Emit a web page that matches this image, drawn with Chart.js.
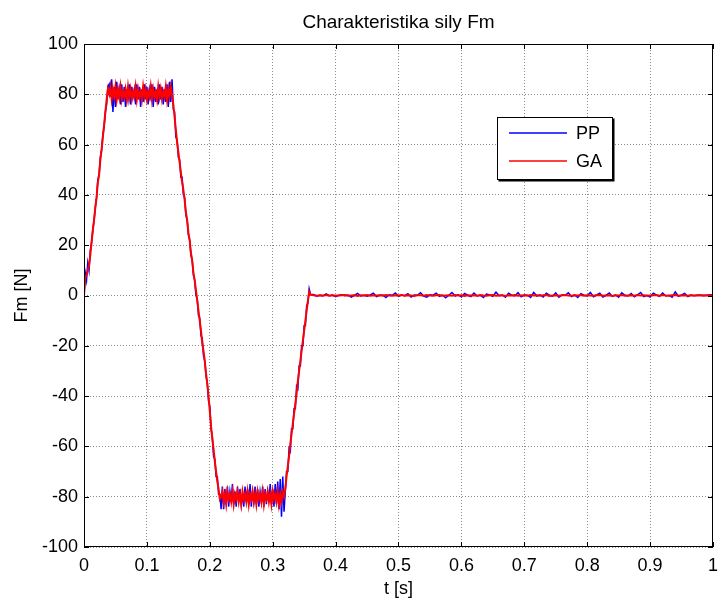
<!DOCTYPE html>
<html><head><meta charset="utf-8">
<script src="https://cdn.jsdelivr.net/npm/chart.js@4/dist/chart.umd.min.js"></script>
<style>html,body{margin:0;padding:0;background:#fff;overflow:hidden}canvas{display:block}</style>
</head><body>
<canvas id="c" width="726" height="601"></canvas>
<script>
const chartTitle = 'Charakteristika sily Fm';
const xTitle = 't [s]';
const yTitle = 'Fm [N]';
const seriesNames = ['PP', 'GA'];
const xTicks = [0, 0.1, 0.2, 0.3, 0.4, 0.5, 0.6, 0.7, 0.8, 0.9, 1];
const yTicks = [-100, -80, -60, -40, -20, 0, 20, 40, 60, 80, 100];

// time in milliseconds
const timeMs = [
  0,2,4,6,8,10,12,14,16,18,
  20,22,24,26,28,30,32,34,36,38,
  40,42,44,46,48,50,52,54,56,58,
  60,62,64,66,68,70,72,74,76,78,
  80,82,84,86,88,90,92,94,96,98,
  100,102,104,106,108,110,112,114,116,118,
  120,122,124,126,128,130,132,134,136,138,
  140,142,144,146,148,150,152,154,156,158,
  160,162,164,166,168,170,172,174,176,178,
  180,182,184,186,188,190,192,194,196,198,
  200,202,204,206,208,210,212,214,216,218,
  220,222,224,226,228,230,232,234,236,238,
  240,242,244,246,248,250,252,254,256,258,
  260,262,264,266,268,270,272,274,276,278,
  280,282,284,286,288,290,292,294,296,298,
  300,302,304,306,308,310,312,314,316,318,
  320,322,324,326,328,330,332,334,336,338,
  340,342,344,346,348,350,352,354,356,358,
  360,
  365,370,375,380,385,390,395,400,405,410,
  415,420,425,430,435,440,445,450,455,460,
  465,470,475,480,485,490,495,500,505,510,
  515,520,525,530,535,540,545,550,555,560,
  565,570,575,580,585,590,595,600,605,610,
  615,620,625,630,635,640,645,650,655,660,
  665,670,675,680,685,690,695,700,705,710,
  715,720,725,730,735,740,745,750,755,760,
  765,770,775,780,785,790,795,800,805,810,
  815,820,825,830,835,840,845,850,855,860,
  865,870,875,880,885,890,895,900,905,910,
  915,920,925,930,935,940,945,950,955,960,
  965,970,975,980,985,990,995,1000
];

const pp = [
  0, 9, 6, 13, 10, 18, 21, 26, 30, 35,
  39, 46, 48, 55, 58, 64, 67, 73, 76, 83,
  84, 79, 86, 73, 83, 75, 85, 78, 82, 76,
  84, 77, 83, 75, 82, 78, 84, 76, 83, 79,
  82, 76, 84, 78, 83, 75, 82, 77, 84, 78,
  83, 76, 82, 79, 84, 75, 83, 77, 82, 76,
  84, 78, 83, 76, 82, 77, 84, 75, 85, 77,
  86, 74, 73, 63, 62, 55, 54, 47, 47, 40,
  39, 32, 30, 24, 22, 16, 14, 8, 6, 0,
  -1, -8, -9, -16, -17, -24, -26, -32, -35, -42,
  -44, -53, -56, -64, -65, -72, -72, -79, -79, -85,
  -76, -85, -77, -83, -76, -84, -78, -82, -75, -83,
  -78, -84, -76, -82, -77, -83, -79, -84, -76, -82,
  -77, -83, -75, -84, -78, -82, -76, -83, -77, -84,
  -78, -82, -76, -84, -77, -83, -78, -82, -75, -83,
  -77, -84, -75, -83, -74, -85, -73, -88, -72, -86,
  -78, -70, -70, -61, -62, -53, -53, -45, -45, -36,
  -37, -28, -28, -20, -20, -12, -12, -4, -3, 2.6,
  0.5,
  0.4, -0.3, 0.1, -0.2, 0.6, -0.1, 0.2, -0.5, 0.1, 0.3,
  -0.1, 0.2, -0.6, 0.1, 0.8, -0.2, 0.1, -0.3, 0.2, 0.9,
  -0.4, 0.1, 0.2, -0.8, 0.3, 0.1, 1.0, -0.3, 0.2, -0.1,
  0.7, -0.6, 0.2, 0.1, 1.1, -0.2, -0.7, 0.3, 0.1, 0.9,
  -0.3, 0.2, -0.9, 0.1, 1.2, -0.2, 0.3, -0.6, 0.8, 0.1,
  -0.4, 1.0, -0.2, 0.1, -0.8, 0.6, 0.2, -0.3, 1.3, -0.1,
  0.2, -0.7, 0.9, 0.1, -0.2, 1.1, -0.5, 0.2, 0.1, -0.8,
  1.2, -0.2, 0.3, -0.6, 0.9, 0.1, -0.3, 1.0, -0.7, 0.2,
  0.1, 1.1, -0.4, 0.2, -0.8, 0.7, 0.1, -0.2, 1.2, -0.5,
  0.2, 0.9, -0.6, 0.1, 1.0, -0.3, 0.2, -0.7, 1.1, 0.1,
  -0.2, 0.8, -0.5, 0.3, 1.2, -0.4, 0.1, -0.6, 0.9, 0.2,
  -0.3, 1.0, -0.2, 0.1, -0.7, 1.4, -0.3, 0.2, 0.8, -0.4,
  0.2, -0.1, 0.1, 0.2, -0.1, 0.1, 0.3, 0.2
];

const ga = [
  0, 7, 8, 10, 12, 16, 21, 26, 30, 35,
  39, 45, 48, 54, 58, 63, 68, 73, 78, 82,
  80, 83, 78, 82, 79, 83, 78, 82, 79, 83,
  78, 81, 79, 82, 78, 83, 79, 82, 78, 81,
  79, 83, 78, 82, 79, 81, 78, 83, 79, 82,
  78, 81, 79, 83, 78, 82, 79, 81, 78, 83,
  79, 82, 78, 81, 79, 83, 78, 82, 79, 83,
  80, 76, 71, 66, 61, 57, 53, 49, 45, 42,
  38, 33, 30, 25, 22, 17, 14, 9, 6, 2,
  -2, -6, -10, -14, -19, -22, -26, -31, -35, -40,
  -46, -52, -57, -61, -66, -70, -74, -77, -81, -80,
  -78, -82, -79, -83, -78, -81, -79, -82, -78, -83,
  -79, -81, -78, -82, -79, -83, -78, -81, -79, -82,
  -78, -83, -79, -81, -78, -82, -79, -83, -78, -81,
  -79, -82, -78, -83, -79, -81, -78, -82, -79, -83,
  -78, -81, -79, -82, -78, -83, -79, -82, -78, -80,
  -77, -72, -68, -64, -59, -55, -51, -47, -43, -39,
  -34, -30, -26, -22, -18, -14, -10, -6, -2, 1.5,
  0.3,
  0.1, -0.1, 0.1, 0.0, 0.2, -0.1, 0.1, -0.1, 0.0, 0.1,
  0.2, -0.1, 0.0, 0.1, -0.2, 0.1, 0.0, 0.2, -0.1, 0.1,
  0.0, 0.1, -0.1, 0.2, 0.0, -0.1, 0.1, 0.0, 0.2, -0.1,
  0.1, 0.0, -0.2, 0.1, 0.1, -0.1, 0.2, 0.0, -0.1, 0.1,
  0.2, -0.1, 0.0, 0.1, -0.1, 0.2, 0.0, 0.1, -0.2, 0.1,
  0.0, 0.1, -0.1, 0.2, 0.0, -0.1, 0.1, 0.2, -0.1, 0.0,
  0.1, -0.2, 0.1, 0.0, 0.2, -0.1, 0.0, 0.1, -0.1, 0.2,
  0.0, 0.1, -0.1, 0.1, 0.2, -0.2, 0.0, 0.1, -0.1, 0.1,
  0.2, 0.0, -0.1, 0.1, 0.0, 0.2, -0.1, 0.1, 0.0, -0.1,
  0.1, 0.2, -0.1, 0.0, 0.1, -0.2, 0.1, 0.0, 0.2, -0.1,
  0.0, 0.1, -0.1, 0.2, 0.0, 0.1, -0.1, 0.0, 0.1, 0.1,
  -0.1, 0.2, 0.0, -0.1, 0.1, 0.2, -0.1, 0.0, 0.1, -0.1,
  0.1, 0.0, 0.1, 0.0, 0.1, 0.0, 0.1, 0.0
];

const FONT = '"Liberation Sans", Arial, Helvetica, sans-serif';
const PP_COLOR = '#0000ff';
const GA_COLOR = '#ff0000';

function toPoints(vals) {
  return timeMs.map((t, i) => ({ x: t / 1000, y: vals[i] }));
}

const decor = {
  id: 'decor',
  afterDraw(chart) {
    const ctx = chart.ctx;
    const a = chart.chartArea;
    const xs = chart.scales.x, ys = chart.scales.y;
    ctx.save();
    ctx.setLineDash([]);
    // axes box
    ctx.strokeStyle = '#000000';
    ctx.lineWidth = 1;
    ctx.strokeRect(a.left + 0.5, a.top + 0.5, a.right - a.left - 1, a.bottom - a.top - 1);
    // inner ticks
    const tl = 5;
    ctx.beginPath();
    xTicks.forEach(v => {
      const px = Math.round(xs.getPixelForValue(v)) + 0.5;
      ctx.moveTo(px, a.bottom); ctx.lineTo(px, a.bottom - tl);
      ctx.moveTo(px, a.top); ctx.lineTo(px, a.top + tl);
    });
    yTicks.forEach(v => {
      const py = Math.round(ys.getPixelForValue(v)) + 0.5;
      ctx.moveTo(a.left, py); ctx.lineTo(a.left + tl, py);
      ctx.moveTo(a.right, py); ctx.lineTo(a.right - tl, py);
    });
    ctx.stroke();
    // titles
    ctx.fillStyle = '#000000';
    ctx.textAlign = 'center';
    ctx.textBaseline = 'middle';
    ctx.font = '19px ' + FONT;
    const cx = (a.left + a.right) / 2;
    ctx.fillText(chartTitle, cx, 23);
    ctx.font = '18px ' + FONT;
    ctx.fillText(xTitle, cx, 589);
    ctx.save();
    ctx.translate(22, (a.top + a.bottom) / 2);
    ctx.rotate(-Math.PI / 2);
    ctx.fillText(yTitle, 0, 0);
    ctx.restore();
    // legend box
    const lx = 497.5, ly = 117.5, lw = 115, lh = 62;
    ctx.fillStyle = '#ffffff';
    ctx.fillRect(lx, ly, lw, lh);
    ctx.strokeStyle = '#000000';
    ctx.lineWidth = 1;
    ctx.strokeRect(lx, ly, lw, lh);
    ctx.lineWidth = 2;
    ctx.beginPath();
    ctx.moveTo(lx + lw + 1, ly + 1); ctx.lineTo(lx + lw + 1, ly + lh + 1); ctx.lineTo(lx + 1, ly + lh + 1);
    ctx.stroke();
    // legend entries
    const entries = [
      { name: seriesNames[0], color: PP_COLOR, y: 133 },
      { name: seriesNames[1], color: GA_COLOR, y: 161 }
    ];
    entries.forEach(e => {
      ctx.beginPath();
      ctx.strokeStyle = e.color;
      ctx.lineWidth = 1.5;
      ctx.moveTo(509, e.y);
      ctx.lineTo(567, e.y);
      ctx.stroke();
      ctx.fillStyle = '#000000';
      ctx.textAlign = 'left';
      ctx.textBaseline = 'middle';
      ctx.font = '18px ' + FONT;
      ctx.fillText(e.name, 576, e.y + 1);
    });
    ctx.restore();
  }
};

new Chart(document.getElementById('c'), {
  type: 'line',
  data: {
    datasets: [
      { label: seriesNames[1], data: toPoints(ga), borderColor: GA_COLOR, borderWidth: 2, pointRadius: 0, fill: false, tension: 0 },
      { label: seriesNames[0], data: toPoints(pp), borderColor: PP_COLOR, borderWidth: 1.5, pointRadius: 0, fill: false, tension: 0 }
    ]
  },
  options: {
    responsive: false,
    animation: false,
    devicePixelRatio: 1,
    layout: { padding: { top: 44, right: 4, left: 0, bottom: 0 } },
    plugins: { legend: { display: false }, title: { display: false }, tooltip: { enabled: false } },
    scales: {
      x: {
        type: 'linear', min: 0, max: 1,
        afterBuildTicks: s => { s.ticks = xTicks.map(v => ({ value: v })); },
        afterFit: s => { s.height = 54; },
        ticks: { callback: v => String(v), color: '#000', font: { family: FONT, size: 18 }, padding: 8, maxRotation: 0, autoSkip: false },
        grid: { color: '#8c8c8c', lineWidth: 1, drawTicks: false },
        border: { display: false, dash: [1, 2] }
      },
      y: {
        type: 'linear', min: -100, max: 100,
        afterBuildTicks: s => { s.ticks = yTicks.map(v => ({ value: v })); },
        afterFit: s => { s.width = 84; },
        ticks: { callback: v => String(v), color: '#000', font: { family: FONT, size: 18 }, padding: 6, autoSkip: false },
        grid: { color: '#8c8c8c', lineWidth: 1, drawTicks: false },
        border: { display: false, dash: [1, 2] }
      }
    }
  },
  plugins: [decor]
});
</script>
</body></html>
